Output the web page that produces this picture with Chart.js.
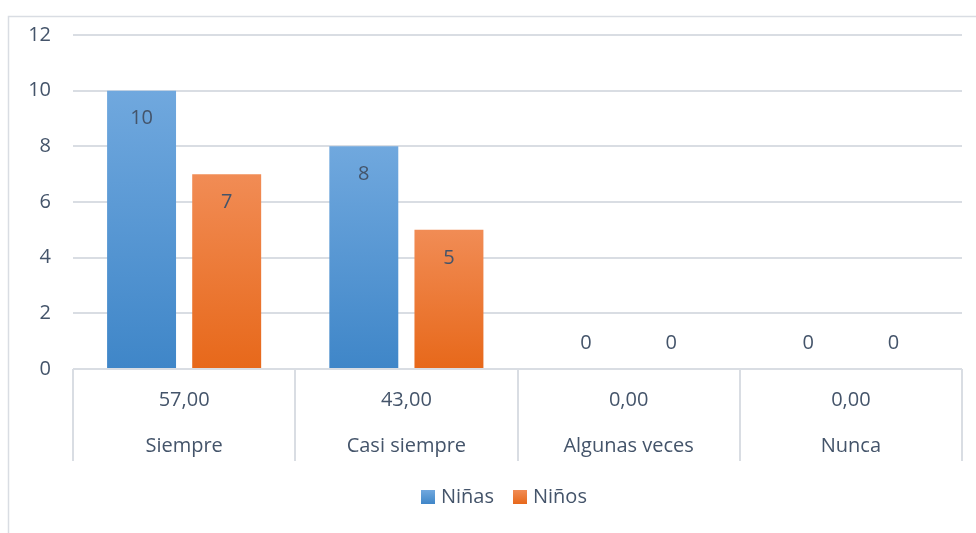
<!DOCTYPE html>
<html>
<head>
<meta charset="utf-8">
<script src="https://cdn.jsdelivr.net/npm/chart.js@4/dist/chart.umd.min.js"></script>
<style>
html,body{margin:0;padding:0;background:#fff;}
#wrap{width:976px;height:533px;position:relative;}
</style>
</head>
<body>
<div id="wrap"><canvas id="c" width="976" height="533"></canvas></div>
<script>
const categories = ["Siempre", "Casi siempre", "Algunas veces", "Nunca"];
const ninas = [10, 8, 0, 0];
const ninos = [7, 5, 0, 0];
const percentages = ["57,00", "43,00", "0,00", "0,00"];
const seriesNames = ["Niñas", "Niños"];
const yTicks = [0, 2, 4, 6, 8, 10, 12];

const FONT = "'Open Sans', sans-serif";
const FS = 20;
const TEXT = "#44546a";
const GRID = "#d9dde3";
const colorsTop = ["#70a8de", "#f18c55"];
const colorsBot = ["#3f86c8", "#e7681a"];

function grad(i) {
  return function(ctx) {
    const chart = ctx.chart;
    const y = chart.scales && chart.scales.y;
    if (!y || ctx.raw === undefined) return colorsBot[i];
    const top = y.getPixelForValue(ctx.raw);
    const bot = y.getPixelForValue(0);
    if (!isFinite(top) || Math.abs(bot - top) < 1) return colorsBot[i];
    const g = chart.ctx.createLinearGradient(0, top, 0, bot);
    g.addColorStop(0, colorsTop[i]);
    g.addColorStop(1, colorsBot[i]);
    return g;
  };
}

const extras = {
  id: 'extras',
  afterDatasetsDraw(chart) {
    const ctx = chart.ctx;
    const ca = chart.chartArea;
    const x = chart.scales.x;
    ctx.save();
    // outer border
    ctx.strokeStyle = GRID;
    ctx.lineWidth = 1.5;
    ctx.beginPath();
    ctx.moveTo(8.5, 533);
    ctx.lineTo(8.5, 16.5);
    ctx.lineTo(976, 16.5);
    ctx.stroke();
    // data labels
    ctx.fillStyle = TEXT;
    ctx.font = FS + "px " + FONT;
    ctx.textAlign = "center";
    ctx.textBaseline = "middle";
    chart.data.datasets.forEach((ds, di) => {
      const meta = chart.getDatasetMeta(di);
      meta.data.forEach((bar, j) => {
        const v = ds.data[j];
        const ly = v > 0 ? bar.y + 28 : bar.y - 26;
        ctx.fillText(String(v), bar.x, ly);
      });
    });
    // table
    const bottom = ca.bottom;
    const tableBottom = 461;
    ctx.strokeStyle = GRID;
    ctx.lineWidth = 2;
    ctx.beginPath();
    ctx.moveTo(ca.left, bottom);
    ctx.lineTo(ca.right, bottom);
    ctx.stroke();
    const n = categories.length;
    const w = (ca.right - ca.left) / n;
    ctx.beginPath();
    for (let i = 0; i <= n; i++) {
      const xx = Math.round(ca.left + i * w);
      ctx.moveTo(xx, bottom);
      ctx.lineTo(xx, tableBottom);
    }
    ctx.stroke();
    ctx.fillStyle = TEXT;
    for (let i = 0; i < n; i++) {
      const cx = x.getPixelForValue(i);
      ctx.fillText(percentages[i], cx, 400);
      ctx.fillText(categories[i], cx, 446);
    }
    // legend
    ctx.textAlign = "left";
    const lx = [421, 513];
    for (let i = 0; i < 2; i++) {
      const g = ctx.createLinearGradient(0, 490, 0, 504);
      g.addColorStop(0, colorsTop[i]);
      g.addColorStop(1, colorsBot[i]);
      ctx.fillStyle = g;
      ctx.fillRect(lx[i], 490, 14, 14);
      ctx.fillStyle = TEXT;
      ctx.fillText(seriesNames[i], lx[i] + 20, 497);
    }
    ctx.restore();
  }
};

new Chart(document.getElementById('c'), {
  type: 'bar',
  data: {
    labels: categories,
    datasets: [
      { label: seriesNames[0], data: ninas, backgroundColor: grad(0), categoryPercentage: 0.766, barPercentage: 0.81 },
      { label: seriesNames[1], data: ninos, backgroundColor: grad(1), categoryPercentage: 0.766, barPercentage: 0.81 }
    ]
  },
  options: {
    responsive: false,
    animation: false,
    devicePixelRatio: 1,
    layout: { padding: { left: 0, right: 14, top: 35, bottom: 164 } },
    plugins: { legend: { display: false }, tooltip: { enabled: false }, title: { display: false } },
    scales: {
      x: { display: false },
      y: {
        min: 0, max: 12,
        afterBuildTicks(scale) { scale.ticks = yTicks.map(v => ({ value: v })); },
        afterFit(scale) { scale.width = 73; },
        grid: { color: GRID, lineWidth: 2, drawTicks: false },
        border: { display: false },
        ticks: { color: TEXT, font: { family: "'Open Sans'", size: FS }, padding: 22 }
      }
    }
  },
  plugins: [extras]
});
</script>
</body>
</html>
